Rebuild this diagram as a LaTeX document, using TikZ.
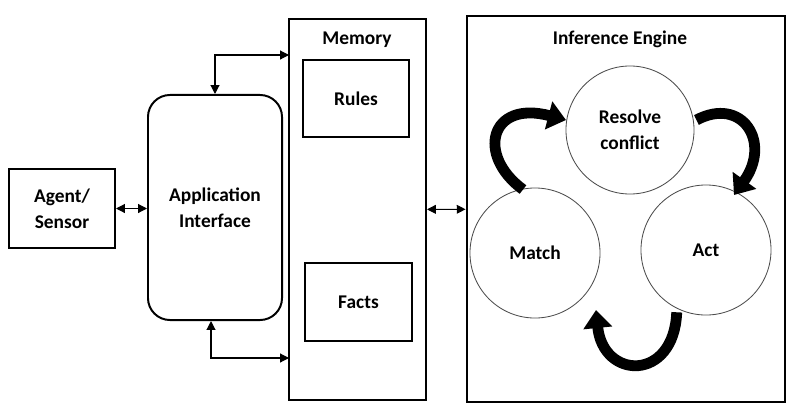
\documentclass[tikz,border=0pt]{standalone}
\usepackage{fontspec}
\setmainfont{Carlito}
\usetikzlibrary{arrows.meta}
\begin{document}
\begin{tikzpicture}[x=0.025cm, y=-0.025cm, >={Triangle[length=2.2mm, width=2.2mm]},
  every node/.style={font=\fontsize{13.8}{18.5}\selectfont\bfseries, align=center},
  box/.style={draw, line width=1.4pt, inner sep=0pt},
  stage/.style={draw=black!70, circle, line width=0.6pt, minimum size=3.25cm, inner sep=0pt},
  link/.style={<->, line width=0.8pt},
  looparrow/.style={-{Triangle[length=4.5mm, width=7mm]}, line width=2.7mm}]
\useasboundingbox (0,0) rectangle (809,408);
% outer blocks
\node[box, minimum width=2.65cm, minimum height=1.975cm] (agent) at (62,208.5) {Agent/\\Sensor};
\node[box, rounded corners=0.55cm, minimum width=3.35cm, minimum height=5.625cm] (app) at (215,207.5) {Application\\Interface};
\node[box, minimum width=3.425cm, minimum height=9.525cm] (mem) at (357.5,209.5) {};
\node (memlbl) at (357,40) {Memory};
\node[box, minimum width=2.65cm, minimum height=1.925cm] (rules) at (356,98.5) {Rules};
\node[box, minimum width=2.675cm, minimum height=1.95cm] (facts) at (358.5,302) {Facts};
\node[box, line width=2pt, minimum width=7.95cm, minimum height=9.65cm] (engine) at (626,209) {};
\node (englbl) at (620,39) {Inference Engine};
% stages of the engine
\node[stage, minimum size=3.2cm] (resolve) at (630,130) {Resolve\\conflict};
\node[stage] (match) at (535,253) {Match};
\node[stage] (act) at (706,250) {Act};
% links
\coordinate (mtop) at (289,55);
\coordinate (mbot) at (289,358);
\draw[link] (agent.east) -- (app.west |- agent.east);
\draw[link] (app.north) |- (mtop);
\draw[link] ([xshift=-0.1cm]app.south) |- (mbot);
\draw[link] (mem) -- (engine);
% cycle
\draw[looparrow] (match.north) ++(-12,2) .. controls (476,155) and (490,100) .. (566,120);
\draw[looparrow] (resolve.east) ++(2,-10) .. controls (742,96) and (772,142) .. (734,195);
\draw[looparrow] (act.south west) ++(17,16) .. controls (674,382) and (603,380) .. (596,310);
\end{tikzpicture}
\end{document}
